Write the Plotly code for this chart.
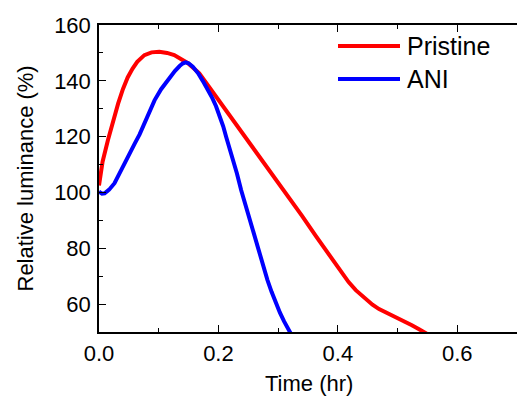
import plotly.graph_objects as go

# ---- data ----
pristine_t = [0.0, 0.006, 0.015, 0.024, 0.032, 0.040, 0.048, 0.056, 0.064, 0.076, 0.088, 0.101,
              0.114, 0.126, 0.137, 0.149, 0.168, 0.190, 0.218, 0.246, 0.274, 0.313,
              0.340, 0.363, 0.384, 0.402, 0.418, 0.43, 0.445, 0.458, 0.469, 0.485, 0.502,
              0.514, 0.524, 0.536, 0.547, 0.56]
pristine_y = [102.5, 111.0, 118.8, 126.0, 131.8, 137.0, 141.2, 144.3, 146.8, 149.2, 150.2, 150.4,
              150.0, 149.2, 148.0, 146.3, 142.7, 136.2, 128.0, 119.8, 111.4, 99.8,
              91.6, 84.4, 77.9, 72.4, 67.9, 65.0, 62.0, 59.8, 58.2, 56.6, 54.9,
              53.6, 52.4, 51.0, 49.6, 48.0]
ani_t = [0.0, 0.005, 0.0095, 0.017, 0.026, 0.034, 0.043, 0.052, 0.060, 0.068, 0.076, 0.085,
         0.093, 0.104, 0.115, 0.127, 0.135, 0.140, 0.145, 0.150, 0.157, 0.166, 0.174, 0.182,
         0.190, 0.196, 0.202, 0.208, 0.213, 0.219, 0.224, 0.231, 0.238, 0.246, 0.255, 0.261,
         0.268, 0.275, 0.282, 0.289, 0.296, 0.303, 0.310, 0.319, 0.33]
ani_y = [100.3, 99.6, 99.7, 101.0, 103.3, 106.8, 110.4, 114.3, 117.6, 120.8, 124.6, 129.0,
         133.0, 137.0, 140.3, 143.5, 145.3, 146.2, 146.6, 146.3, 145.1, 142.7, 139.9, 137.0,
         133.7, 130.9, 127.6, 123.7, 119.9, 115.9, 112.3, 106.8, 100.9, 94.9, 88.7, 83.7,
         78.3, 73.3, 68.7, 64.4, 60.4, 56.9, 53.8, 50.4, 46.0]
series_names = ["Pristine", "ANI"]
series_colors = ["#ff0000", "#0000ff"]

x_range = [0, 0.7]
y_range = [50, 160]
x_ticks = [0.0, 0.2, 0.4, 0.6]
y_ticks = [60, 80, 100, 120, 140, 160]

FONT = "Liberation Sans, Arial, sans-serif"
W, H = 517, 400
ML, MR, MT, MB = 99, 0, 25, 68
PW, PH = W - ML - MR, H - MT - MB


def px_to_paper(px, py):
    return (px - ML) / PW, (H - MB - py) / PH


fig = go.Figure()
for t, y, name, col in [(pristine_t, pristine_y, series_names[0], series_colors[0]),
                        (ani_t, ani_y, series_names[1], series_colors[1])]:
    fig.add_trace(go.Scatter(x=t, y=y, mode="lines", name=name,
                             line=dict(color=col, width=4, shape="linear"),
                             showlegend=False))
# invisible trace to carry the top (mirror) axis
fig.add_trace(go.Scatter(x=x_range, y=y_range, xaxis="x2", mode="none",
                         showlegend=False, hoverinfo="skip"))

# manual legend
leg_rows = [46, 79]
shapes = []
annotations = []
for name, col, row in zip(series_names, series_colors, leg_rows):
    x0, yy = px_to_paper(338, row)
    x1, _ = px_to_paper(400, row)
    shapes.append(dict(type="line", xref="paper", yref="paper", x0=x0, x1=x1, y0=yy, y1=yy,
                       line=dict(color=col, width=4)))
    xt, _ = px_to_paper(405, row)
    annotations.append(dict(text=name, xref="paper", yref="paper", x=xt, y=yy,
                            xanchor="left", yanchor="middle", showarrow=False,
                            font=dict(family=FONT, size=25, color="#000")))

# axis titles
xa, ya = px_to_paper(25, 178.5)
annotations.append(dict(text="Relative luminance (%)", xref="paper", yref="paper", x=xa, y=ya,
                        xanchor="center", yanchor="middle", textangle=-90, showarrow=False,
                        font=dict(family=FONT, size=22, color="#000")))
xa, ya = px_to_paper(309, 383)
annotations.append(dict(text="Time (hr)", xref="paper", yref="paper", x=xa, y=ya,
                        xanchor="center", yanchor="middle", showarrow=False,
                        font=dict(family=FONT, size=22, color="#000")))

tick_common = dict(showgrid=False, zeroline=False, showline=True, linecolor="#000",
                   linewidth=1.5, ticks="inside", ticklen=7, tickwidth=1.2, tickcolor="#000")

fig.update_layout(
    width=W, height=H,
    margin=dict(l=ML, r=MR, t=MT, b=MB, pad=0),
    plot_bgcolor="white", paper_bgcolor="white",
    font=dict(family=FONT, size=22, color="#000"),
    shapes=shapes, annotations=annotations,
    xaxis=dict(range=x_range, tickvals=x_ticks, ticktext=[f"{v:.1f}" for v in x_ticks],
               minor=dict(dtick=0.1, ticks="inside", ticklen=4, tickwidth=1.2, tickcolor="#000"),
               ticklabelstandoff=1, tickfont=dict(family=FONT, size=22), **tick_common),
    xaxis2=dict(range=x_range, overlaying="x", side="top", tickvals=x_ticks,
                showticklabels=False,
                minor=dict(dtick=0.1, ticks="inside", ticklen=4, tickwidth=1.2, tickcolor="#000"),
                **tick_common),
    yaxis=dict(range=y_range, tickvals=y_ticks,
               minor=dict(dtick=10, ticks="inside", ticklen=4, tickwidth=1.2, tickcolor="#000"),
               ticklabelstandoff=2, tickfont=dict(family=FONT, size=22), **tick_common),
)

fig.write_html("out.html")
